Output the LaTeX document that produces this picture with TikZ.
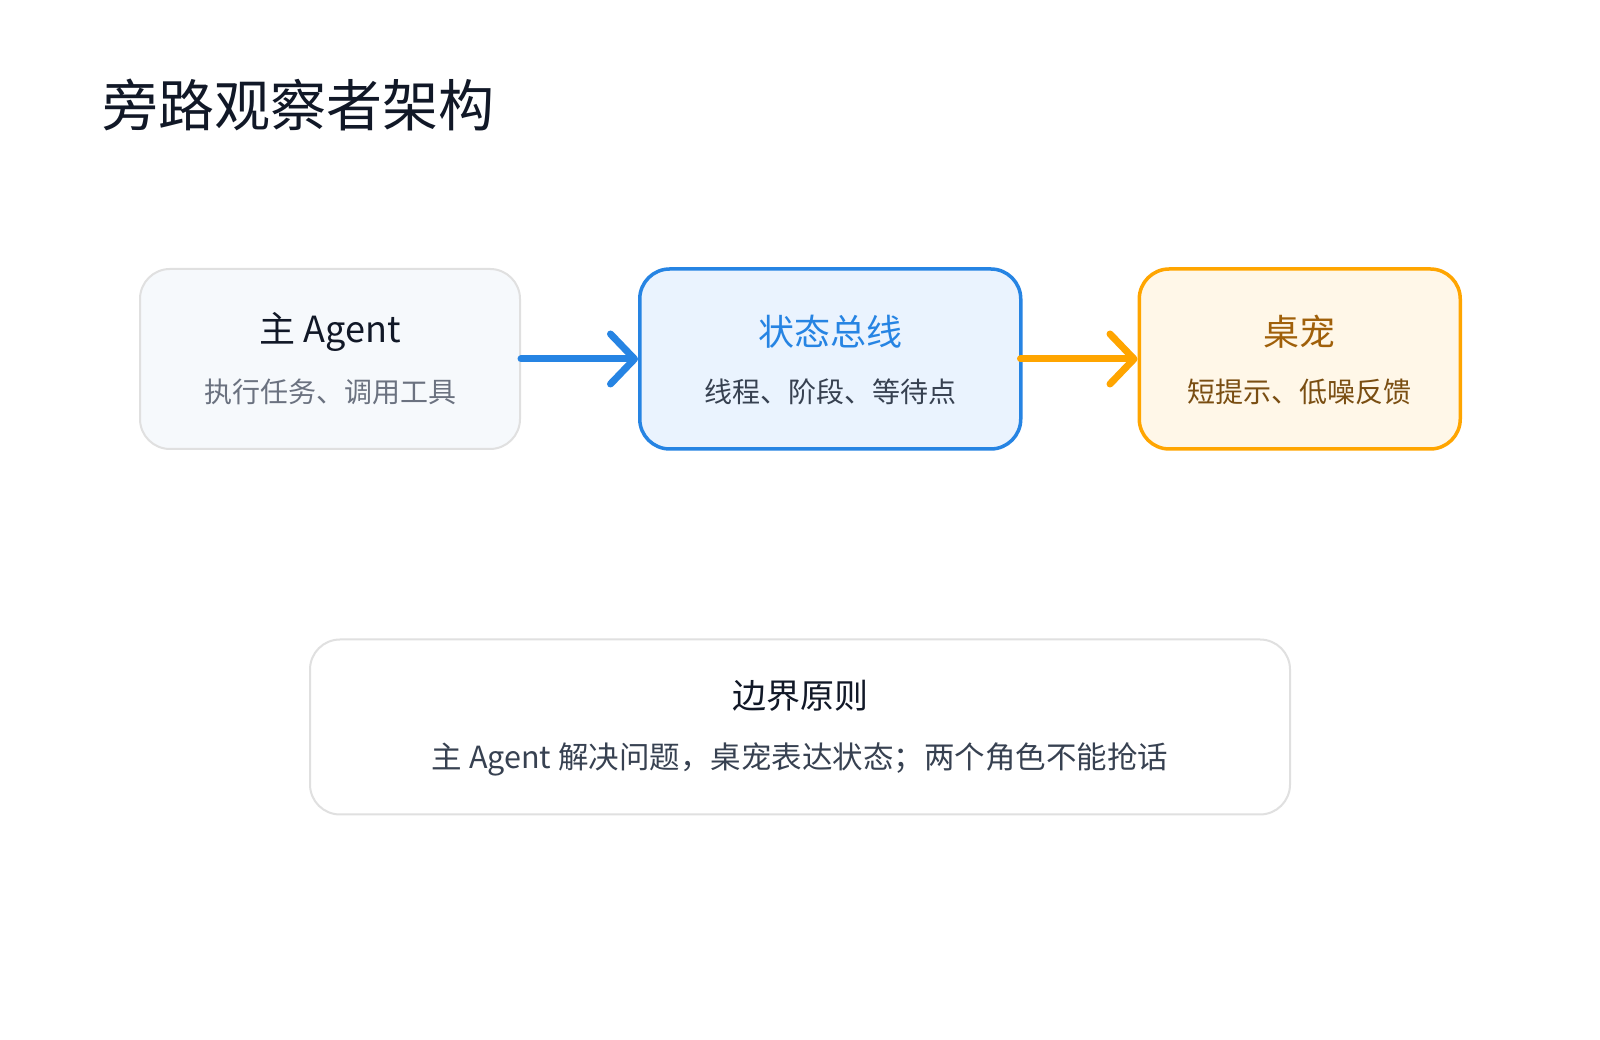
\documentclass[tikz,border=0pt]{standalone}
\usepackage{fontspec}
\setmainfont{Noto Sans CJK SC}
\usetikzlibrary{arrows.meta, positioning, calc}

\definecolor{inkdark}{HTML}{111827}
\definecolor{inkgray}{HTML}{6B7280}
\definecolor{inkslate}{HTML}{374151}
\definecolor{busblue}{HTML}{2684E3}
\definecolor{busfill}{HTML}{EAF3FE}
\definecolor{petorange}{HTML}{FFA500}
\definecolor{petfill}{HTML}{FFF7E8}
\definecolor{pethead}{HTML}{A0600A}
\definecolor{pettext}{HTML}{7A4E12}
\definecolor{agentfill}{HTML}{F6F9FC}
\definecolor{edgegray}{HTML}{E0E0E0}

\begin{document}
\begin{tikzpicture}[
  x=1pt, y=1pt,
  box/.style={rounded corners=30pt, minimum height=180pt, inner sep=0pt},
  head/.style={font=\fontsize{36}{40}\selectfont, inner sep=0pt},
  sub/.style={font=\fontsize{28}{32}\selectfont, inner sep=0pt},
  arr/.style={line width=7pt, line cap=round,
              -{Straight Barb[length=24pt, width=50pt, round]}},
]
  \useasboundingbox[fill=white] (0,0) rectangle (1600,1040);

  \node[anchor=west, inkdark, font=\fontsize{56}{60}\selectfont, inner sep=0pt]
        (title) at (102,935) {旁路观察者架构};

  % three stages
  \node[box, draw=edgegray, line width=2pt, fill=agentfill, minimum width=380pt]
        (agent) at (330,681) {};
  \node[box, draw=busblue, line width=3.5pt, fill=busfill, minimum width=381pt,
        right=117pt of agent] (bus) {};
  \node[box, draw=petorange, line width=3.5pt, fill=petfill, minimum width=321pt,
        right=115pt of bus] (pet) {};

  \node[head, inkdark]  (agent-t) at ($(agent)+(0,27)$)  {主 Agent};
  \node[sub, inkgray]   (agent-s) at ($(agent)+(0,-33)$) {执行任务、调用工具};
  \node[head, busblue]  (bus-t)   at ($(bus)+(0,27)$)    {状态总线};
  \node[sub, inkslate]  (bus-s)   at ($(bus)+(0,-33)$)   {线程、阶段、等待点};
  \node[head, pethead]  (pet-t)   at ($(pet)+(0,27)$)    {桌宠};
  \node[sub, pettext]   (pet-s)   at ($(pet)+(0,-33)$)   {短提示、低噪反馈};

  \draw[arr, busblue]   (agent.east) -- (bus.west);
  \draw[arr, petorange] ([xshift=-2pt]bus.east) -- (pet.west);

  % boundary note
  \node[box, draw=edgegray, line width=2pt, fill=white, minimum width=980pt,
        minimum height=175pt] (rule) at (800,313) {};
  \node[head, font=\fontsize{34}{40}\selectfont, inkdark] (rule-t)
        at ($(rule)+(0,31)$) {边界原则};
  \node[sub, font=\fontsize{30.5}{34}\selectfont, inkslate] (rule-s)
        at ($(rule)+(0,-32)$) {主 Agent 解决问题，桌宠表达状态；两个角色不能抢话};
\end{tikzpicture}
\end{document}
